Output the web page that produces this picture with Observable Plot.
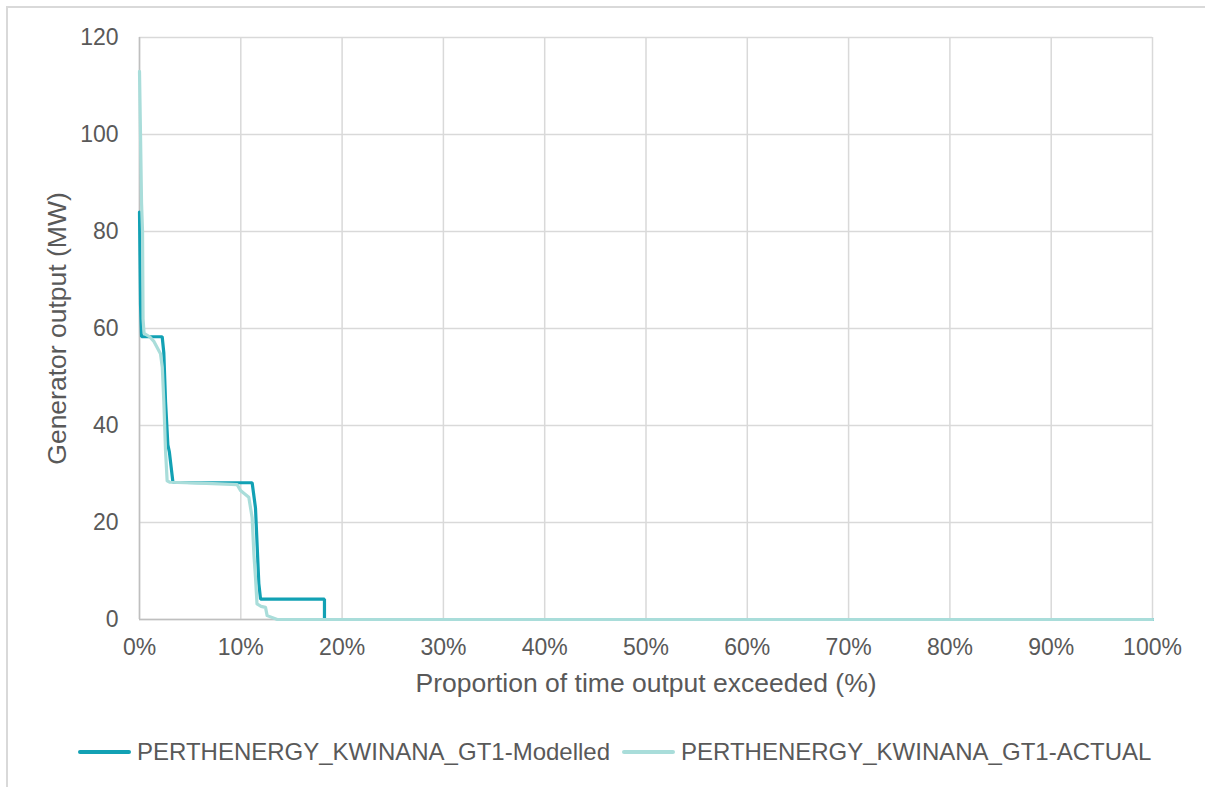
<!DOCTYPE html>
<html>
<head>
<meta charset="utf-8">
<script src="https://cdn.jsdelivr.net/npm/d3@7"></script>
<script src="https://cdn.jsdelivr.net/npm/@observablehq/plot@0.6"></script>
<style>
  html, body { margin: 0; padding: 0; background: #fff; overflow: hidden; }
  #wrap { position: relative; width: 1205px; height: 787px; font-family: "Liberation Sans", Arial, sans-serif; }
  #frame { position: absolute; left: 6px; top: 6px; width: 1300px; height: 900px; border-left: 2px solid #d9d9d9; border-top: 2px solid #d9d9d9; }
  #chart { position: absolute; left: 0; top: 0; }
  .leg { position: absolute; top: 738px; height: 28px; display: flex; align-items: center; font-size: 24px; color: #595959; white-space: nowrap; }
  .sw { width: 53px; height: 4px; border-radius: 2px; margin-right: 6px; }
</style>
</head>
<body>
<div id="wrap">
  <div id="frame"></div>
  <div id="chart"></div>
  <div id="legend"></div>
</div>
<script>
// ---- data ----
const seriesNames = ["PERTHENERGY_KWINANA_GT1-Modelled", "PERTHENERGY_KWINANA_GT1-ACTUAL"];
const seriesColors = ["#12a1b4", "#a9ddda"];

const modelledX = [0, 0.1, 0.2, 2.24, 2.4, 2.57, 2.8, 2.95, 3.3, 6, 11.12, 11.45, 11.78, 11.95, 18.26, 18.26, 100];
const modelledY = [84, 65, 58.3, 58.3, 55, 45, 36, 34.5, 28.3, 28.2, 28.2, 23, 7.4, 4.2, 4.2, 0, 0];

const actualX = [0, 0.1, 0.2, 0.3, 0.35, 0.45, 1.0, 1.4, 2.07, 2.25, 2.4, 2.57, 2.73, 3.0, 6, 9.64, 9.97, 10.79, 11.12, 11.29, 11.45, 11.6, 12.0, 12.44, 12.6, 13.6, 100];
const actualY = [113, 100, 86, 80, 62, 59, 58.3, 57.4, 54.8, 52, 45, 34.8, 28.6, 28.3, 28.1, 27.8, 26.6, 25.2, 21, 13.5, 8.7, 3.2, 2.7, 2.5, 0.8, 0, 0];

const xTicks = [0, 10, 20, 30, 40, 50, 60, 70, 80, 90, 100];
const yTicks = [0, 20, 40, 60, 80, 100, 120];
const xLabel = "Proportion of time output exceeded (%)";
const yLabel = "Generator output (MW)";

// ---- build table ----
const rows = [
  ...modelledX.map((x, i) => ({series: seriesNames[0], x, y: modelledY[i]})),
  ...actualX.map((x, i) => ({series: seriesNames[1], x, y: actualY[i]}))
];

const textColor = "#595959";
const chart = Plot.plot({
  width: 1205,
  height: 720,
  marginLeft: 139,
  marginRight: 53,
  marginTop: 37,
  marginBottom: 101,
  style: {fontFamily: "'Liberation Sans', Arial, sans-serif", fontSize: "23px", color: textColor, background: "transparent", overflow: "visible"},
  x: {domain: [0, 100]},
  y: {domain: [0, 120]},
  color: {domain: seriesNames, range: seriesColors},
  marks: [
    Plot.gridX(xTicks, {stroke: "#d9d9d9", strokeOpacity: 1, strokeWidth: 1.5}),
    Plot.gridY(yTicks, {stroke: "#d9d9d9", strokeOpacity: 1, strokeWidth: 1.5}),
    Plot.ruleX([0], {stroke: "#bfbfbf", strokeWidth: 1.5}),
    Plot.ruleY([0], {stroke: "#bfbfbf", strokeWidth: 1.5}),
    Plot.line(rows.filter(d => d.series === seriesNames[0]), {x: "x", y: "y", stroke: "series", strokeWidth: 3.2, strokeLinejoin: "miter"}),
    Plot.line(rows.filter(d => d.series === seriesNames[1]), {x: "x", y: "y", stroke: "series", strokeWidth: 3.2, strokeLinejoin: "round"}),
    Plot.axisX(xTicks, {tickSize: 0, tickPadding: 19, tickFormat: d => d + "%", label: null, fill: textColor, fontSize: 23}),
    Plot.axisY(yTicks, {tickSize: 0, tickPadding: 21, label: null, fill: textColor, fontSize: 23}),
    Plot.text([xLabel], {frameAnchor: "bottom", textAnchor: "middle", dy: 72, fill: textColor, fontSize: 26.5}),
    Plot.text([yLabel], {frameAnchor: "left", textAnchor: "middle", dx: -82, rotate: -90, fill: textColor, fontSize: 26.5})
  ]
});
document.getElementById("chart").appendChild(chart);

// ---- legend ----
const legend = document.getElementById("legend");
const legLefts = [78, 622];
seriesNames.forEach((name, i) => {
  const item = document.createElement("div");
  item.className = "leg";
  item.style.left = legLefts[i] + "px";
  const sw = document.createElement("div");
  sw.className = "sw";
  sw.style.background = seriesColors[i];
  const t = document.createElement("span");
  t.textContent = name;
  item.appendChild(sw);
  item.appendChild(t);
  legend.appendChild(item);
});
</script>
</body>
</html>
